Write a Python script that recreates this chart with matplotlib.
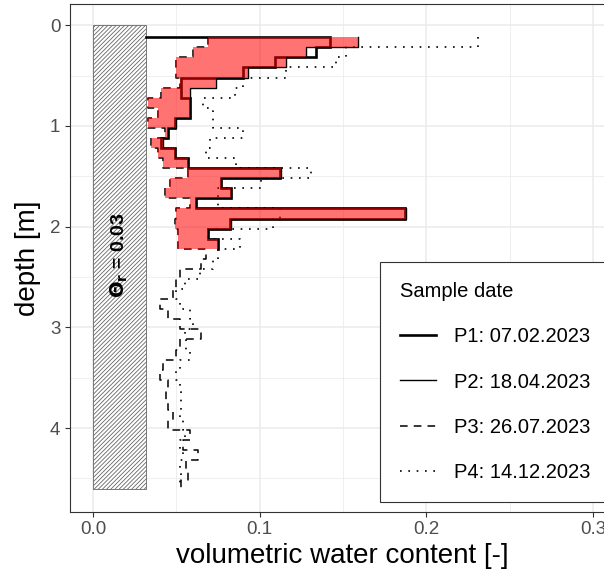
import numpy as np
import matplotlib
matplotlib.use("Agg")
import matplotlib.pyplot as plt

plt.rcParams['font.family'] = ['Liberation Sans', 'DejaVu Sans']
plt.rcParams['hatch.linewidth'] = 0.6
plt.rcParams['hatch.color'] = '#444444'

# layer tops [m] (0.1 m sampling); last layer ends at 4.6 m
tops = [0.12, 0.22, 0.32, 0.42, 0.52, 0.62, 0.72, 0.82, 0.92, 1.02,
        1.12, 1.22, 1.32, 1.42, 1.52, 1.62, 1.72, 1.82, 1.92, 2.02,
        2.12, 2.22, 2.32, 2.42, 2.52, 2.62, 2.72, 2.82, 2.92, 3.02,
        3.12, 3.22, 3.32, 3.42, 3.52, 3.62, 3.72, 3.82, 3.92, 4.02,
        4.12, 4.22, 4.32, 4.42, 4.52, 4.60]

# volumetric water content per layer
p1 = [0.142, 0.134, 0.109, 0.090, 0.053, 0.053, 0.058, 0.058, 0.049, 0.045,
      0.041, 0.049, 0.057, 0.112, 0.077, 0.083, 0.062, 0.187, 0.082, 0.069,
      0.075]
p2 = [0.159, 0.128, 0.116, 0.093, 0.074, 0.058, 0.058, 0.058, 0.050, 0.045,
      0.042, 0.049, 0.057, 0.113, 0.077, 0.083, 0.062, 0.188, 0.083, 0.069,
      0.075]
p3 = [0.069, 0.060, 0.050, 0.050, 0.052, 0.041, 0.033, 0.039, 0.033, 0.043,
      0.035, 0.039, 0.042, 0.057, 0.046, 0.043, 0.058, 0.050, 0.049, 0.051,
      0.051, 0.068, 0.065, 0.052, 0.050, 0.048, 0.040, 0.045, 0.052, 0.065,
      0.052, 0.050, 0.042, 0.040, 0.045, 0.044, 0.045, 0.048, 0.045, 0.058,
      0.054, 0.063, 0.056, 0.057, 0.053]
p4 = [0.231, 0.152, 0.146, 0.116, 0.090, 0.085, 0.066, 0.072, 0.072, 0.090,
      0.070, 0.068, 0.086, 0.131, 0.101, 0.075, 0.075, 0.112, 0.108, 0.069,
      0.088, 0.075, 0.072, 0.064, 0.055, 0.050, 0.052, 0.058, 0.060, 0.055,
      0.056, 0.058, 0.052, 0.050, 0.052, 0.053, 0.053, 0.052, 0.054, 0.055,
      0.052, 0.054, 0.052, 0.053, 0.052]

labels = ['P1: 07.02.2023', 'P2: 18.04.2023', 'P3: 26.07.2023', 'P4: 14.12.2023']
theta_r = 0.032
hatch_bottom = 4.6


def steps(vals):
    # vertical step profile: each value held over its depth layer
    v = np.asarray(vals)
    d = np.asarray(tops[:len(v) + 1])
    depth = np.column_stack([d[:-1], d[1:]]).ravel()
    return np.repeat(v, 2), depth


fig = plt.figure(figsize=(6.04, 5.80), dpi=100)
ax = fig.add_axes([70 / 604, 1 - 511.7 / 580, (614 - 70) / 604, (511.7 - 4) / 580])

# residual water content block
ax.fill_betweenx([0, hatch_bottom], 0, theta_r, facecolor='white',
                 edgecolor='#666666', hatch='////////', lw=0.6, zorder=1)
ax.text(theta_r / 2, 2.28, r'$\mathbf{\Theta_r}$ = 0.03', rotation=90,
        ha='center', va='center', fontsize=14, fontweight='bold', zorder=2)

x1, y1 = steps(p1)
x1 = np.concatenate([[theta_r], x1])
y1 = np.concatenate([[tops[0]], y1])
x2, y2 = steps(p2)
x3, y3 = steps(p3)
x4, y4 = steps(p4)

ax.plot(x1, y1, color='black', lw=1.9, solid_joinstyle='miter', label=labels[0], zorder=3)
ax.plot(x2, y2, color='black', lw=1.0, label=labels[1], zorder=3)
ax.plot(x3, y3, color='black', lw=1.1, ls=(0, (5, 4)), label=labels[2], zorder=3)
ax.plot(x4, y4, color='black', lw=1.2, ls=(0, (1, 4)), label=labels[3], zorder=3)

# difference P3 -> P2
n = len(p2)
fx3, fy = steps(p3[:n])
ax.fill_betweenx(fy, fx3, x2, color='red', alpha=0.55, lw=0, zorder=4)

ax.set_xlim(-0.0138, 0.3125)
ax.set_ylim(4.83, -0.21)
ax.set_xticks([0.0, 0.1, 0.2, 0.3])
ax.set_xticklabels(['0.0', '0.1', '0.2', '0.3'])
ax.set_yticks([0, 1, 2, 3, 4])
ax.set_xticks([0.05, 0.15, 0.25], minor=True)
ax.set_yticks([0.5, 1.5, 2.5, 3.5, 4.5], minor=True)
ax.grid(which='major', color='#EBEBEB', lw=1.1, zorder=0)
ax.grid(which='minor', color='#EBEBEB', lw=0.55, zorder=0)
ax.set_axisbelow(True)
ax.tick_params(which='major', length=3.5, width=0.8, color='#333333',
               labelcolor='#4D4D4D', labelsize=13.5)
ax.tick_params(which='minor', length=0)
for s in ax.spines.values():
    s.set_color('#333333')
    s.set_linewidth(0.8)

ax.set_xlabel('volumetric water content [-]', fontsize=20, labelpad=3)
ax.set_ylabel('depth [m]', fontsize=20, labelpad=6)

leg = ax.legend(title='Sample date', loc='upper left',
                bbox_to_anchor=(380 / 604, 1 - 262 / 580),
                bbox_transform=fig.transFigure, borderaxespad=0,
                fontsize=14.5, title_fontsize=14.5, frameon=True,
                fancybox=False, framealpha=1, edgecolor='#333333',
                handlelength=1.8, handletextpad=0.85, labelspacing=1.3,
                borderpad=1.0, alignment='left')
leg.get_frame().set_linewidth(0.8)
leg.set_zorder(10)

fig.savefig('out.png', dpi=100)
